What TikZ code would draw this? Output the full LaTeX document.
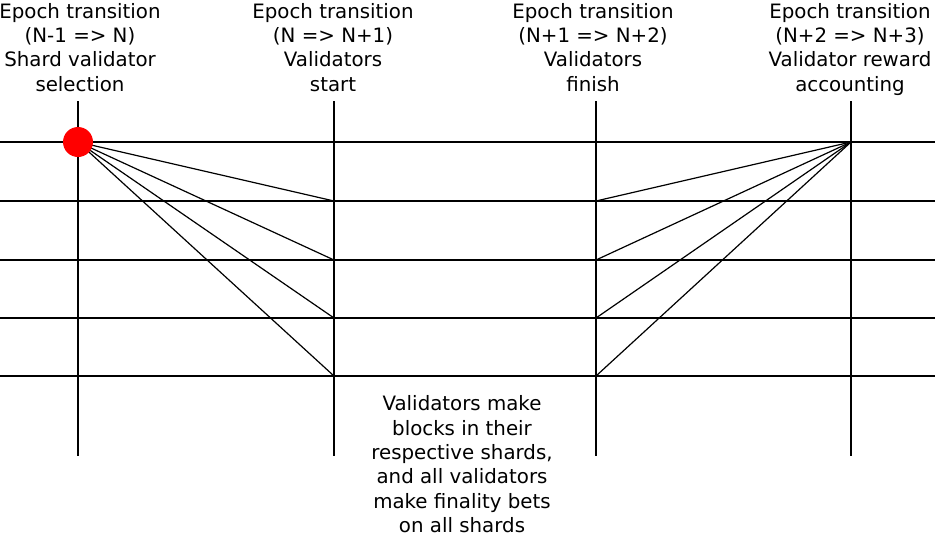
\documentclass[tikz,border=0pt]{standalone}
\usepackage{fontspec}
\setmainfont{DejaVu Sans}
\begin{document}
\begin{tikzpicture}[x=1pt,y=-1pt,line width=1.2pt,
  every node/.style={font=\fontsize{19.8}{24.4}\selectfont,align=center,inner sep=0pt}]
\useasboundingbox (0,0) rectangle (935,536);
\node[anchor=north] (selection) at (80,2.5) {Epoch transition\\(N-1 => N)\\Shard validator\\selection};
\node[anchor=north] (start) at (333,2.5) {Epoch transition\\(N => N+1)\\Validators\\start};
\node[anchor=north] (finish) at (593,2.5) {Epoch transition\\(N+1 => N+2)\\Validators\\finish};
\node[anchor=north] (accounting) at (850,2.5) {Epoch transition\\(N+2 => N+3)\\Validator reward\\accounting};
\node[anchor=north] (bets) at (462,395) {Validators make\\blocks in their\\respective shards,\\and all validators\\make finality bets\\on all shards};

\coordinate (dot) at (78,142);
\coordinate (reward) at (851,142);

% shard lines
\foreach \y [count=\i] in {142,201,260,318,376} {
  \coordinate (shardl\i) at (0,\y);
  \coordinate (shardr\i) at (935,\y);
  \coordinate (start\i) at (334,\y);
  \coordinate (finish\i) at (596,\y);
  \draw (shardl\i) -- (shardr\i);
}

% epoch lines
\foreach \x/\n in {78/a,334/b,596/c,851/d} {
  \coordinate (top\n) at (\x,101);
  \coordinate (bottom\n) at (\x,456);
  \draw (top\n) -- (bottom\n);
}

\foreach \i in {2,...,5} {
  \draw (dot) -- (start\i);
  \draw (reward) -- (finish\i);
}
\fill[red] (dot) circle (15);
\end{tikzpicture}
\end{document}
